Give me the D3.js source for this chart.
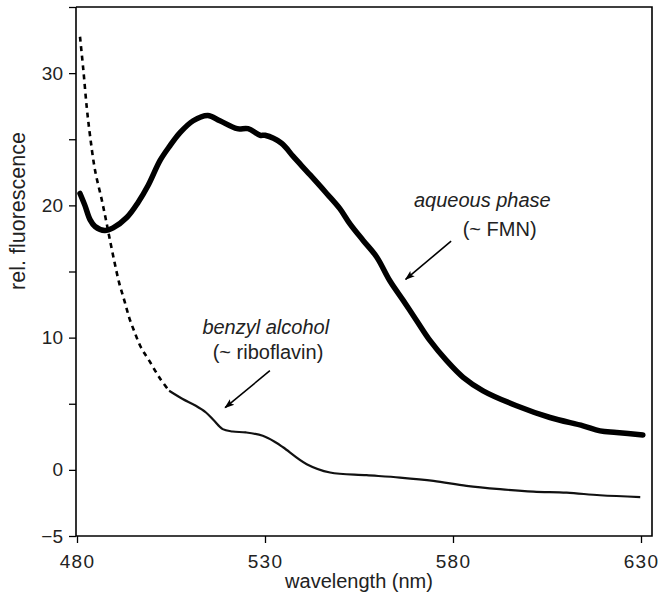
<!DOCTYPE html>
<html>
<head>
<meta charset="utf-8">
<script src="https://cdn.jsdelivr.net/npm/d3@7"></script>
<style>
  html, body { margin: 0; padding: 0; background: #fff; }
  svg { display: block; font-family: "Liberation Sans", Arial, Helvetica, sans-serif; }
</style>
</head>
<body>
<svg id="chart" width="660" height="595"></svg>
<script>
// ---- data ----
const aqueousWavelength = [480.8,482.1,483.5,484.8,487.4,489.6,493.3,496.2,498.9,502.1,504.7,507.4,510.9,514.8,518.0,522.6,525.5,528.7,530.0,534.4,537.5,542.0,546.4,549.9,552.6,556.1,559.7,563.2,566.8,570.3,573.9,578.3,582.7,588.0,596.9,605.8,614.6,619.1,623.5,630.5];
const aqueousValue      = [20.9,20.0,18.9,18.4,18.1,18.3,19.1,20.2,21.5,23.4,24.5,25.5,26.4,26.8,26.4,25.8,25.8,25.3,25.3,24.7,23.7,22.3,20.9,19.75,18.6,17.35,16.1,14.3,12.8,11.3,9.77,8.26,7.0,5.98,4.85,3.96,3.33,2.95,2.83,2.63];

const benzylWavelength = [480.8,481.7,482.6,483.5,484.8,486.6,487.7,488.6,489.9,491.25,492.6,493.9,495.2,497.0,499.2,501.9,504.5,508.1,511.6,514.3,516.5,518.75,521.4,524.9,529.4,532.9,534.9,541.1,547.3,557.0,565.9,574.8,583.6,592.5,601.4,610.2,619.1,629.8];
const benzylValue      = [32.75,30.2,27.4,25.2,22.65,20.4,18.9,17.6,15.8,14.1,12.8,11.5,10.5,9.27,8.26,6.99,5.98,5.36,4.85,4.34,3.71,3.08,2.90,2.83,2.58,2.07,1.69,0.43,-0.2,-0.4,-0.58,-0.83,-1.21,-1.46,-1.64,-1.72,-1.92,-2.06];
const benzylDashedUntil = 504.5; // steep part is drawn dashed

const xTicks = [480, 530, 580, 630];
const yTicks = [-5, 0, 5, 10, 15, 20, 25, 30, 35];
const yTickLabels = {"-5": "\u22125", "0": "0", "10": "10", "20": "20", "30": "30"};

const xLabel = "wavelength (nm)";
const yLabel = "rel. fluorescence";

const annotations = [
  {lines: [{text: "aqueous phase", italic: true, x: 587.8, y: 19.85}, {text: "(~ FMN)", italic: false, x: 592.4, y: 17.7}],
   arrow: {x1: 579.5, y1: 17.3, x2: 567.4, y2: 14.4}},
  {lines: [{text: "benzyl alcohol", italic: true, x: 530.2, y: 10.3}, {text: "(~ riboflavin)", italic: false, x: 530.8, y: 8.4}],
   arrow: {x1: 531.3, y1: 7.5, x2: 519.4, y2: 4.7}}
];

// ---- layout ----
const mLeft = 76, mRight = 641, frameRight = 652, mTop = 7, mBottom = 536;
const svg = d3.select("#chart");

const x = d3.scaleLinear().domain([480, 630]).range([mLeft + 1, mRight]);
const y = d3.scaleLinear().domain([-5, 35]).range([mBottom, mTop]);

// frame (top & right)
svg.append("path")
  .attr("d", `M${mLeft},${mTop}H${frameRight}V${mBottom}H${mRight}`)
  .attr("fill", "none").attr("stroke", "#000").attr("stroke-width", 1.6);

// y axis
const yAxis = svg.append("g").attr("transform", `translate(${mLeft},0)`)
  .call(d3.axisLeft(y).tickValues(yTicks).tickSize(7).tickPadding(6)
    .tickFormat(d => yTickLabels[String(d)] || ""));
yAxis.select(".domain").attr("d", `M0,${mTop}V${mBottom}`).attr("stroke-width", 1.6);
yAxis.selectAll(".tick line").attr("stroke-width", 1.3);
yAxis.selectAll("text").attr("font-size", 19).attr("fill", "#222")
  .attr("font-family", "Liberation Sans, Arial, sans-serif");

// x axis
const xAxis = svg.append("g").attr("transform", `translate(0,${mBottom})`)
  .call(d3.axisBottom(x).tickValues(xTicks).tickSize(7).tickPadding(12).tickFormat(d3.format("d")));
xAxis.select(".domain").attr("d", `M${mLeft},0H${mRight}`).attr("stroke-width", 1.6);
xAxis.selectAll(".tick line").attr("stroke-width", 1.3);
xAxis.selectAll("text").attr("font-size", 19).attr("fill", "#222")
  .attr("letter-spacing", 1.2)
  .attr("font-family", "Liberation Sans, Arial, sans-serif");

// axis titles
svg.append("text").attr("x", 359).attr("y", 588).attr("text-anchor", "middle")
  .attr("font-size", 20).attr("fill", "#222").text(xLabel);
svg.append("text").attr("transform", "translate(25,211) rotate(-90)")
  .attr("text-anchor", "middle").attr("font-size", 21.5).attr("fill", "#222").text(yLabel);

// curves
const smooth = d3.line().x(d => x(d[0])).y(d => y(d[1])).curve(d3.curveCatmullRom.alpha(0.5));

const aq = aqueousWavelength.map((w, i) => [w, aqueousValue[i]]);
svg.append("path").attr("d", smooth(aq)).attr("fill", "none")
  .attr("stroke", "#000").attr("stroke-width", 5.5)
  .attr("stroke-linejoin", "round").attr("stroke-linecap", "round");

const bz = benzylWavelength.map((w, i) => [w, benzylValue[i]]);
const bzDashed = bz.filter(d => d[0] <= benzylDashedUntil);
const bzSolid = bz.filter(d => d[0] >= bzDashed[bzDashed.length - 1][0]);
svg.append("path").attr("d", smooth(bzDashed)).attr("fill", "none")
  .attr("stroke", "#000").attr("stroke-width", 2.6).attr("stroke-dasharray", "5,4.5");
svg.append("path").attr("d", smooth(bzSolid)).attr("fill", "none")
  .attr("stroke", "#111").attr("stroke-width", 2.2).attr("stroke-linejoin", "round");

// annotations
const defs = svg.append("defs");
defs.append("marker").attr("id", "ah").attr("viewBox", "0 0 10 10")
  .attr("refX", 9).attr("refY", 5).attr("markerWidth", 10).attr("markerHeight", 10)
  .attr("markerUnits", "userSpaceOnUse").attr("orient", "auto")
  .append("path").attr("d", "M0,1.5L10,5L0,8.5L2,5Z").attr("fill", "#000");

annotations.forEach(a => {
  a.lines.forEach(l => {
    svg.append("text").attr("x", x(l.x)).attr("y", y(l.y))
      .attr("text-anchor", "middle").attr("font-size", 20)
      .attr("font-style", l.italic ? "italic" : "normal")
      .attr("fill", "#222").text(l.text);
  });
  svg.append("line")
    .attr("x1", x(a.arrow.x1)).attr("y1", y(a.arrow.y1))
    .attr("x2", x(a.arrow.x2)).attr("y2", y(a.arrow.y2))
    .attr("stroke", "#000").attr("stroke-width", 1.6).attr("marker-end", "url(#ah)");
});
</script>
</body>
</html>
